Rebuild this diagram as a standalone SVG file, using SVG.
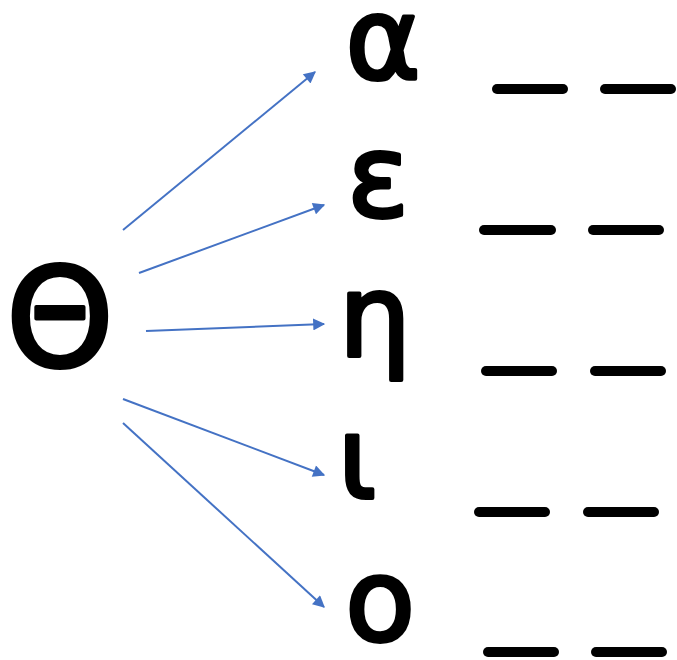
<svg xmlns="http://www.w3.org/2000/svg" width="677" height="660" viewBox="0 0 677 660">
<style>
.g{font-family:"DejaVu Sans","Noto Sans",sans-serif;fill:#000;stroke:#000;stroke-width:4;stroke-linejoin:round;text-anchor:middle}
.d{stroke:#000;stroke-width:10;stroke-linecap:round;fill:none}
.a{stroke:#4472C4;stroke-width:2;fill:none;marker-end:url(#ah)}
</style>
<defs>
<marker id="ah" viewBox="0 0 10 10" refX="9" refY="5" markerWidth="7" markerHeight="6" markerUnits="strokeWidth" orient="auto">
<path d="M0,0 L10,5 L0,10 z" fill="#4472C4"/>
</marker>
</defs>
<rect width="677" height="660" fill="#fff"/>
<g id="theta"><text class="g" x="60" y="366" font-size="137">Θ</text></g>
<g id="alpha"><text class="g" x="383" y="78" font-size="114">α</text></g>
<g id="epsilon"><text class="g" x="378" y="216" font-size="114">ε</text></g>
<g id="eta"><text class="g" x="375" y="356" font-size="114">η</text></g>
<g id="iota"><text class="g" x="357" y="498" font-size="114">ι</text></g>
<g id="omicron"><text class="g" x="380" y="640" font-size="114">ο</text></g>
<g id="blanks">
<line class="d" x1="497" y1="89" x2="563" y2="89"/><line class="d" x1="605" y1="89" x2="671" y2="89"/>
<line class="d" x1="484" y1="230" x2="551" y2="230"/><line class="d" x1="593" y1="230" x2="659" y2="230"/>
<line class="d" x1="486" y1="371" x2="552" y2="371"/><line class="d" x1="595" y1="371" x2="661" y2="371"/>
<line class="d" x1="479" y1="512" x2="545" y2="512"/><line class="d" x1="588" y1="512" x2="654" y2="512"/>
<line class="d" x1="488" y1="652" x2="554" y2="652"/><line class="d" x1="596" y1="652" x2="662" y2="652"/>
</g>
<g id="connectors">
<line class="a" x1="123" y1="230" x2="315" y2="72"/>
<line class="a" x1="139" y1="273" x2="324" y2="205"/>
<line class="a" x1="146" y1="331" x2="324" y2="324"/>
<line class="a" x1="123" y1="399" x2="324" y2="475"/>
<line class="a" x1="123" y1="423" x2="324" y2="607"/>
</g>
</svg>
